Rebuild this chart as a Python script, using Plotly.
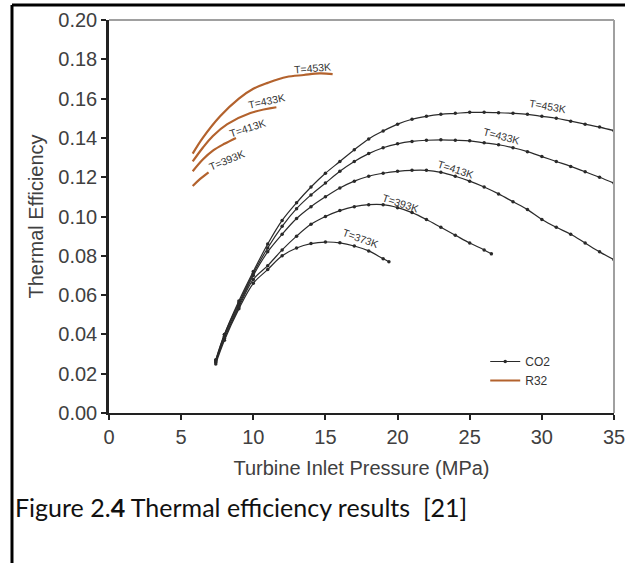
import plotly.graph_objects as go

# ---- CO2 curves (turbine inlet pressure MPa, thermal efficiency) ----
co2_p_453 = [7.4, 8, 9, 10, 11, 12, 13, 14, 15, 16, 17, 18, 19, 20, 21, 22, 23, 24, 25, 26, 27, 28, 29, 30, 31, 32, 33, 34, 35]
co2_e_453 = [0.027, 0.040, 0.057, 0.072, 0.086, 0.098, 0.107, 0.115, 0.122, 0.128, 0.134, 0.1395, 0.1435, 0.147, 0.1495, 0.151, 0.152, 0.1525, 0.153, 0.153, 0.1528, 0.1525, 0.152, 0.151, 0.150, 0.1485, 0.147, 0.1455, 0.1437]

co2_p_433 = [7.4, 8, 9, 10, 11, 12, 13, 14, 15, 16, 17, 18, 19, 20, 21, 22, 23, 24, 25, 26, 27, 28, 29, 30, 31, 32, 33, 34, 35]
co2_e_433 = [0.027, 0.040, 0.056, 0.071, 0.084, 0.095, 0.104, 0.111, 0.117, 0.123, 0.128, 0.132, 0.135, 0.137, 0.1382, 0.1388, 0.139, 0.1388, 0.1385, 0.1375, 0.1365, 0.135, 0.133, 0.1305, 0.128, 0.1255, 0.1228, 0.120, 0.117]

co2_p_413 = [7.4, 8, 9, 10, 11, 12, 13, 14, 15, 16, 17, 18, 19, 20, 21, 22, 23, 24, 25, 26, 27, 28, 29, 30, 31, 32, 33, 34, 35]
co2_e_413 = [0.026, 0.039, 0.055, 0.070, 0.082, 0.091, 0.099, 0.105, 0.110, 0.1145, 0.118, 0.1205, 0.122, 0.123, 0.1235, 0.1235, 0.1225, 0.1205, 0.118, 0.115, 0.1115, 0.1075, 0.1035, 0.0985, 0.0945, 0.091, 0.0865, 0.082, 0.078]

co2_p_393 = [7.4, 8, 9, 10, 11, 12, 13, 14, 15, 16, 17, 18, 19, 20, 21, 22, 23, 24, 25, 26, 26.5]
co2_e_393 = [0.026, 0.038, 0.054, 0.068, 0.075, 0.083, 0.090, 0.096, 0.100, 0.103, 0.105, 0.106, 0.106, 0.1045, 0.102, 0.0985, 0.0945, 0.0905, 0.0865, 0.083, 0.081]

co2_p_373 = [7.4, 8, 9, 10, 11, 12, 13, 14, 15, 16, 17, 18, 19, 19.4]
co2_e_373 = [0.025, 0.037, 0.053, 0.066, 0.073, 0.080, 0.084, 0.0862, 0.087, 0.0866, 0.085, 0.0825, 0.0785, 0.077]

# ---- R32 curves ----
r32_p_453 = [5.8, 6.5, 7.7, 9, 10, 11, 12.3, 13.5, 14.6, 15.5]
r32_e_453 = [0.132, 0.140, 0.151, 0.160, 0.165, 0.168, 0.171, 0.172, 0.1728, 0.1725]

r32_p_433 = [5.8, 6.5, 7.2, 8.2, 9.8, 11.6]
r32_e_433 = [0.128, 0.135, 0.141, 0.147, 0.1527, 0.1556]

r32_p_413 = [5.8, 6.5, 7.2, 8.0, 8.8]
r32_e_413 = [0.123, 0.129, 0.1335, 0.137, 0.140]

r32_p_393 = [5.8, 6.3, 6.9]
r32_e_393 = [0.1155, 0.119, 0.1225]

# ---- curve labels ----
co2_labels = ["T=453K", "T=433K", "T=413K", "T=393K", "T=373K"]
co2_label_x = [30.4, 27.2, 24.0, 20.2, 17.4]
co2_label_y = [0.156, 0.141, 0.124, 0.107, 0.089]
co2_label_ang = [10, 15, 18, 18, 20]

r32_labels = ["T=453K", "T=433K", "T=413K", "T=393K"]
r32_label_x = [14.1, 10.9, 9.6, 8.15]
r32_label_y = [0.1755, 0.159, 0.145, 0.129]
r32_label_ang = [-5, -12, -18, -22]

x_ticks = [0, 5, 10, 15, 20, 25, 30, 35]
y_ticks = [0.00, 0.02, 0.04, 0.06, 0.08, 0.10, 0.12, 0.14, 0.16, 0.18, 0.20]

CO2_COLOR = "#2a2a2a"
R32_COLOR = "#B3622D"

fig = go.Figure()

co2_sets = [(co2_p_453, co2_e_453), (co2_p_433, co2_e_433), (co2_p_413, co2_e_413),
            (co2_p_393, co2_e_393), (co2_p_373, co2_e_373)]
for i, (px, py) in enumerate(co2_sets):
    fig.add_trace(go.Scatter(
        x=px, y=py, mode="lines+markers", name="CO2",
        line=dict(color=CO2_COLOR, width=1.2, shape="spline"),
        marker=dict(color=CO2_COLOR, size=3.5, symbol="circle"),
        showlegend=(i == 0), legendgroup="co2"))

r32_sets = [(r32_p_453, r32_e_453), (r32_p_433, r32_e_433), (r32_p_413, r32_e_413), (r32_p_393, r32_e_393)]
for i, (px, py) in enumerate(r32_sets):
    fig.add_trace(go.Scatter(
        x=px, y=py, mode="lines", name="R32",
        line=dict(color=R32_COLOR, width=2.2, shape="spline"),
        showlegend=(i == 0), legendgroup="r32"))

annotations = []
for t, x, y, a in zip(co2_labels, co2_label_x, co2_label_y, co2_label_ang):
    annotations.append(dict(x=x, y=y, text=t, showarrow=False, textangle=a,
                            font=dict(family="Liberation Sans, Arial", size=10.5, color="#333333")))
for t, x, y, a in zip(r32_labels, r32_label_x, r32_label_y, r32_label_ang):
    annotations.append(dict(x=x, y=y, text=t, showarrow=False, textangle=a,
                            font=dict(family="Liberation Sans, Arial", size=10.5, color="#333333")))

# caption
annotations.append(dict(xref="paper", yref="paper", x=-0.19, y=-0.239, xanchor="left", yanchor="middle",
                        text="Figure 2.<b>4</b> Thermal efficiency results  [21]", showarrow=False,
                        font=dict(family="Lato, Open Sans, sans-serif", size=25, color="#111111")))

shapes = [
    # top and right gray frame of plot area
    dict(type="line", xref="paper", yref="paper", x0=0, x1=1, y0=1, y1=1, line=dict(color="#a0a0a0", width=2)),
    dict(type="line", xref="paper", yref="paper", x0=1, x1=1, y0=0, y1=1, line=dict(color="#a0a0a0", width=2)),
    # outer black border (left and top)
    dict(type="line", xref="paper", yref="paper", x0=-0.1921, x1=-0.1921, y0=-0.40, y1=1.0382, line=dict(color="black", width=3)),
    dict(type="line", xref="paper", yref="paper", x0=-0.1921, x1=1.05, y0=1.0382, y1=1.0382, line=dict(color="black", width=3)),
]

fig.update_layout(
    width=625, height=563,
    margin=dict(l=109, r=11, t=20, b=150),
    paper_bgcolor="white", plot_bgcolor="white",
    font=dict(family="Liberation Sans, Arial", color="#404040"),
    showlegend=True,
    legend=dict(x=0.745, y=0.168, xanchor="left", yanchor="top", bgcolor="rgba(0,0,0,0)",
                font=dict(family="Liberation Sans, Arial", size=12, color="#333333"),
                itemwidth=30, tracegroupgap=0),
    annotations=annotations,
    shapes=shapes,
)

fig.update_xaxes(range=[0, 35], tickvals=x_ticks, ticktext=[str(v) for v in x_ticks],
                 automargin=False, ticklabeloverflow="allow",
                 showgrid=False, zeroline=False, showline=True, linecolor="#222222", linewidth=1.5,
                 ticks="outside", ticklen=5, tickwidth=1.5, tickcolor="#222222",
                 tickfont=dict(size=20, color="#404040"),
                 title=dict(text="Turbine Inlet Pressure (MPa)", font=dict(size=20, color="#404040"), standoff=14))
fig.update_yaxes(range=[0, 0.2], tickvals=y_ticks, ticktext=["%.2f" % v for v in y_ticks],
                 automargin=False, ticklabeloverflow="allow",
                 showgrid=False, zeroline=False, showline=True, linecolor="#222222", linewidth=2.5,
                 ticks="outside", ticklen=5, tickwidth=1.5, tickcolor="#222222",
                 tickfont=dict(size=20, color="#404040"),
                 title=dict(text="Thermal Efficiency", font=dict(size=20, color="#404040"), standoff=10))

fig.write_html("out.html", config={"displayModeBar": False},
               post_script="document.body.style.margin='0px';")
